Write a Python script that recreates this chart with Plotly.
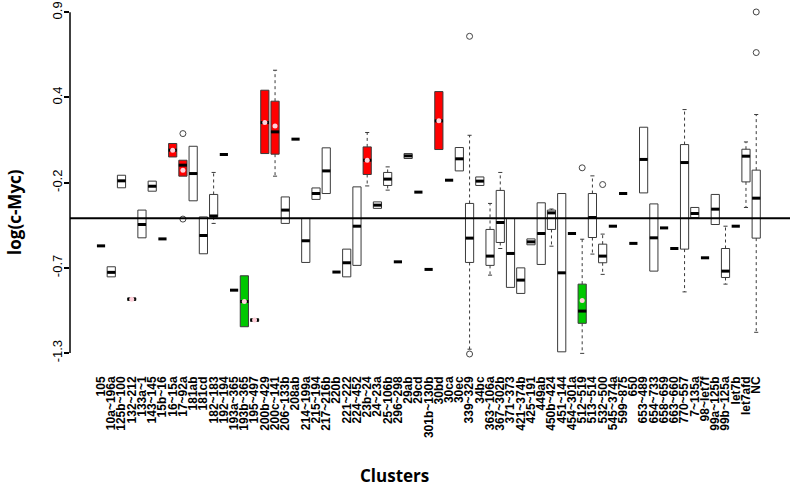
import plotly.graph_objects as go

categories = ["105", "10a~196a", "125b~100", "132~212", "133a~1", "143~145", "15b~16", "16~15a",
              "17~92a", "181ab", "181cd", "182~183", "192~194", "193a~365", "193b~365", "195~497",
              "200b~429", "200c~141", "206~133b", "208ab", "214~199a", "215~194", "217~216b", "220b",
              "221~222", "224~452", "23b~24", "24~23a", "25~106b", "296~298", "29ab", "29cd",
              "301b~130b", "30bd", "30ca", "30ec", "339~329", "34bc", "363~106a", "367~302b",
              "371~373", "421~374b", "425~191", "449ab", "450b~424", "451~144", "454~301a", "512~519",
              "513~514", "532~500", "545~374a", "599~875", "650", "653~489", "654~733", "658~659",
              "663~660", "770~557", "7~135a", "98~let7f", "99a~125b", "99b~125a", "let7b", "let7afd", "NC"]

q1 = [-0.608, -0.808, -0.233, -0.960, -0.556, -0.255, -0.563, -0.034,
      -0.158, -0.317, -0.659, -0.421, -0.018, -0.894, -1.130, -1.095,
      -0.012, -0.016, -0.463, 0.081, -0.715, -0.308, -0.270, -0.777,
      -0.808, -0.734, -0.147, -0.366, -0.218, -0.711, -0.044, -0.261,
      -0.760, 0.014, -0.184, -0.124, -0.715, -0.218, -0.734, -0.586,
      -0.876, -0.915, -0.601, -0.728, -0.502, -1.292, -0.528, -1.108,
      -0.554, -0.717, -0.481, -0.270, -0.592, -0.266, -0.771, -0.492,
      -0.625, -0.629, -0.425, -0.685, -0.470, -0.812, -0.481, -0.195, -0.558]
median = [-0.608, -0.779, -0.188, -0.952, -0.470, -0.223, -0.563, 0.010,
          -0.087, -0.141, -0.541, -0.415, -0.018, -0.894, -0.967, -1.087,
          0.188, 0.128, -0.377, 0.081, -0.575, -0.270, -0.124, -0.777,
          -0.717, -0.481, -0.055, -0.345, -0.177, -0.711, -0.027, -0.261,
          -0.760, 0.199, -0.184, -0.046, -0.558, -0.190, -0.674, -0.457,
          -0.657, -0.829, -0.582, -0.528, -0.395, -0.782, -0.528, -1.029,
          -0.425, -0.674, -0.481, -0.270, -0.592, -0.050, -0.556, -0.492,
          -0.625, -0.070, -0.399, -0.685, -0.371, -0.771, -0.481, -0.029, -0.300]
q3 = [-0.608, -0.743, -0.152, -0.944, -0.377, -0.190, -0.563, 0.053,
      -0.055, 0.035, -0.421, -0.276, -0.018, -0.894, -0.801, -1.079,
      0.397, 0.326, -0.292, 0.081, -0.431, -0.234, 0.025, -0.777,
      -0.629, -0.227, 0.031, -0.324, -0.134, -0.711, -0.012, -0.261,
      -0.760, 0.388, -0.184, 0.027, -0.334, -0.163, -0.502, -0.250,
      -0.431, -0.750, -0.563, -0.330, -0.377, -0.270, -0.528, -0.855,
      -0.270, -0.597, -0.481, -0.270, -0.592, 0.158, -0.337, -0.492,
      -0.625, 0.046, -0.360, -0.685, -0.276, -0.625, -0.481, 0.016, -0.119]

# whisker ends
whisker_lo = {"182~183": -0.463, "200c~141": -0.158, "23b~24": -0.221, "25~106b": -0.248,
              "339~329": -1.275, "363~106a": -0.797, "367~302b": -0.625, "450b~424": -0.610,
              "512~519": -1.302, "513~514": -0.661, "532~500": -0.792, "770~557": -0.905,
              "99b~125a": -0.855, "let7afd": -0.360, "NC": -1.166}
whisker_hi = {"182~183": -0.134, "200c~141": 0.526, "23b~24": 0.124, "25~106b": -0.098,
              "339~329": 0.106, "363~106a": -0.334, "367~302b": -0.134, "450b~424": -0.370,
              "512~519": -0.565, "513~514": -0.156, "532~500": -0.532, "770~557": 0.272,
              "99b~125a": -0.481, "let7afd": 0.063, "NC": 0.240}

means = {"132~212": -0.952, "16~15a": 0.010, "17~92a": -0.119, "193b~365": -0.967,
         "195~497": -1.087, "200b~429": 0.188, "200c~141": 0.166, "23b~24": -0.055,
         "30bd": 0.199, "512~519": -0.960}

up_clusters = ["16~15a", "17~92a", "200b~429", "200c~141", "23b~24", "30bd"]
down_clusters = ["132~212", "193b~365", "195~497", "512~519"]

outlier_cluster = ["17~92a", "17~92a", "339~329", "339~329", "512~519", "532~500", "NC", "NC"]
outlier_value = [0.117, -0.435, 0.745, -1.306, -0.104, -0.212, 0.902, 0.640]

ref_level = -0.43
ytick_vals = [-1.3, -0.75, -0.2, 0.35, 0.9]
ytick_text = ["-1.3", "-0.7", "-0.2", "0.4", "0.9"]

# ---------------------------------------------------------------
pos = {c: i + 1 for i, c in enumerate(categories)}
HALF = 0.4

fig = go.Figure()

groups = {"none": ("white", []), "up": ("#ff0000", []), "down": ("#00c800", [])}
for i, c in enumerate(categories):
    if q3[i] - q1[i] < 1e-9:
        continue
    g = "up" if c in up_clusters else ("down" if c in down_clusters else "none")
    groups[g][1].append(i)

for g, (fill, idx) in groups.items():
    if not idx:
        continue
    fig.add_trace(go.Box(
        x=[pos[categories[i]] for i in idx],
        q1=[q1[i] for i in idx], median=[median[i] for i in idx], q3=[q3[i] for i in idx],
        lowerfence=[q1[i] for i in idx], upperfence=[q3[i] for i in idx],
        width=0.8, fillcolor=fill, line=dict(color="#3a3a3a", width=1),
        whiskerwidth=0, boxpoints=False, hoverinfo="skip", showlegend=False))

# whiskers (dashed) and staples
wx, wy, cx, cy = [], [], [], []
for c, lo in whisker_lo.items():
    i = categories.index(c)
    p = pos[c]
    hi = whisker_hi[c]
    wx += [p, p, None, p, p, None]
    wy += [q3[i], hi, None, q1[i], lo, None]
    cx += [p - 0.2, p + 0.2, None, p - 0.2, p + 0.2, None]
    cy += [hi, hi, None, lo, lo, None]
fig.add_trace(go.Scatter(x=wx, y=wy, mode="lines", line=dict(color="#3a3a3a", width=1, dash="3px,3px"),
                         hoverinfo="skip", showlegend=False))
fig.add_trace(go.Scatter(x=cx, y=cy, mode="lines", line=dict(color="#3a3a3a", width=1),
                         hoverinfo="skip", showlegend=False))

# medians (thick)
mx, my = [], []
for i, c in enumerate(categories):
    p = pos[c]
    mx += [p - HALF, p + HALF, None]
    my += [median[i], median[i], None]
fig.add_trace(go.Scatter(x=mx, y=my, mode="lines", line=dict(color="black", width=3),
                         hoverinfo="skip", showlegend=False))

# means
fig.add_trace(go.Scatter(x=[pos[c] for c in means], y=list(means.values()), mode="markers",
                         marker=dict(symbol="circle", size=5, color="#ffd0da"),
                         hoverinfo="skip", showlegend=False))

# outliers
fig.add_trace(go.Scatter(x=[pos[c] for c in outlier_cluster], y=outlier_value, mode="markers",
                         marker=dict(symbol="circle-open", size=6, color="#444444", line=dict(width=1)),
                         hoverinfo="skip", showlegend=False, cliponaxis=False))

fig.add_shape(type="line", xref="paper", x0=0, x1=1, yref="y", y0=ref_level, y1=ref_level,
              line=dict(color="black", width=2))
fig.add_shape(type="line", xref="paper", x0=0, x1=0, yref="y", y0=ytick_vals[0], y1=ytick_vals[-1],
              line=dict(color="black", width=1.5))

fig.add_annotation(text="log(c-Myc)", xref="paper", yref="paper", x=-0.0764, y=0.426,
                   xanchor="center", yanchor="middle", textangle=-90, showarrow=False,
                   font=dict(family="Open Sans", size=17, color="black", weight="bold"))
fig.add_annotation(text="Clusters", xref="paper", yref="paper", x=0.451, y=-0.297,
                   xanchor="center", yanchor="middle", showarrow=False,
                   font=dict(family="Open Sans", size=17, color="black", weight="bold"))

fig.update_layout(
    width=792, height=487,
    margin=dict(l=70, r=2, t=3, b=120, autoexpand=False),
    plot_bgcolor="white", paper_bgcolor="white",
    xaxis=dict(range=[-2.03, 68.3], tickmode="array", tickvals=[pos[c] for c in categories],
               ticktext=categories, tickangle=-90, showgrid=False, zeroline=False, showline=False,
               automargin=False, ticks="", ticklabelstandoff=6,
               tickfont=dict(family="Liberation Sans", size=12, color="black", weight="bold")),
    yaxis=dict(range=[-1.39, 0.96], tickmode="array", tickvals=ytick_vals, ticktext=ytick_text,
               tickangle=-90, showgrid=False, zeroline=False, showline=False, automargin=False,
               ticks="outside", ticklen=5, tickcolor="black", tickwidth=1.5, ticklabelstandoff=-3,
               tickfont=dict(family="Liberation Sans", size=13, color="black")),
)

fig.write_html("out.html", config={"displayModeBar": False},
               post_script="document.body.style.margin='0px';document.body.style.overflow='hidden';")
